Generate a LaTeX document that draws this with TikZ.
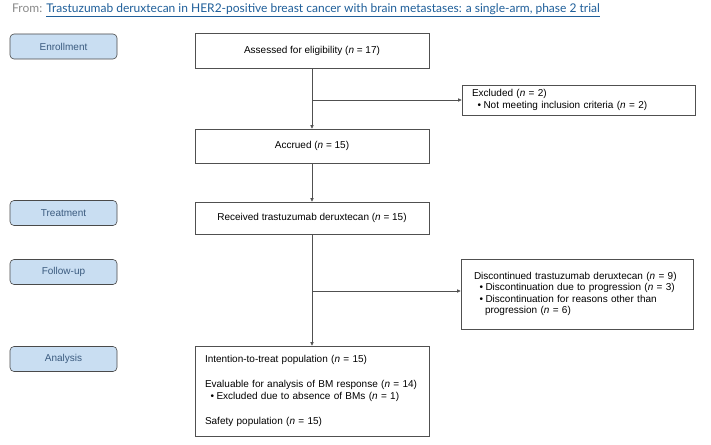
\documentclass[tikz,border=0pt]{standalone}
\usepackage{fontspec}
\setmainfont{Liberation Sans}
\newfontfamily\titlefont{Lato}
\usetikzlibrary{arrows.meta}
\definecolor{phasefill}{HTML}{C9DEF2}
\definecolor{phasetext}{HTML}{3B5B7F}
\definecolor{phaseline}{HTML}{4A4A4A}
\definecolor{boxline}{HTML}{505050}
\definecolor{linkblue}{HTML}{1F5F9A}
\definecolor{fromgray}{HTML}{8A8A8A}
\newcommand\mybullet{\hspace*{5.5pt}\textbullet\hspace{2.5pt}}
\newcommand\myindent{\hspace*{11pt}}
\tikzset{
  phase/.style={draw=phaseline, fill=phasefill, rounded corners=4pt, line width=0.6pt,
    minimum width=107pt, minimum height=25pt, inner sep=0pt, text=phasetext,
    font=\fontsize{10}{12}\selectfont},
  mainbox/.style={draw=boxline, line width=0.6pt, minimum width=234pt, inner sep=0pt,
    font=\fontsize{10}{12}\selectfont, align=center},
  listbox/.style={draw=boxline, line width=0.6pt, inner ysep=0pt, align=left},
  flow/.style={draw=boxline, line width=0.6pt, -{Triangle[length=3.5pt,width=3.2pt]}},
  plain/.style={draw=boxline, line width=0.6pt}
}
\begin{document}
\begin{tikzpicture}[x=1pt,y=-1pt]
\useasboundingbox (0,0) rectangle (711,444);
\fill[white] (0,0) rectangle (711,444);
% title
\node[anchor=base west, inner sep=0pt, font=\titlefont\fontsize{12}{14}\selectfont] (title) at (12,12.5)
  {{\color{fromgray}From: }{\color{linkblue}\underline{Trastuzumab deruxtecan in HER2-positive breast cancer with brain metastases: a single-arm, phase 2 trial}}};
% phases
\node[phase] (enr) at (63.5,46.5) {Enrollment};
\node[phase] (trt) at (63.5,213) {Treatment};
\node[phase] (fol) at (63.5,272) {Follow-up};
\node[phase] (ana) at (63.5,359) {Analysis};
% main boxes
\node[mainbox, minimum height=35pt] (assess) at (312,50.5) {Assessed for eligibility (\textit{n} = 17)};
\node[mainbox, minimum height=34pt] (accr) at (312,146) {Accrued (\textit{n} = 15)};
\node[mainbox, minimum height=32pt] (recv) at (312,218) {Received trastuzumab deruxtecan (\textit{n} = 15)};
\node[listbox, minimum height=90pt, text width=220pt, inner xsep=7pt,
  font=\fontsize{10}{12}\selectfont] (anbox) at (312,391)
  {\hspace*{3pt}Intention-to-treat population (\textit{n} = 15)\\[13pt]
   \hspace*{3pt}Evaluable for analysis of BM response (\textit{n} = 14)\\
   \hspace*{3pt}\mybullet Excluded due to absence of BMs (\textit{n} = 1)\\[13pt]
   \hspace*{3pt}Safety population (\textit{n} = 15)};
% side boxes
\node[listbox, minimum height=30pt, text width=213pt, inner xsep=10pt,
  font=\fontsize{10}{11.5}\selectfont] (excl) at (578.5,100)
  {Excluded (\textit{n} = 2)\\
   \mybullet Not meeting inclusion criteria (\textit{n} = 2)};
\node[listbox, minimum height=70pt, text width=206pt, inner xsep=13pt,
  font=\fontsize{10}{11.5}\selectfont] (disc) at (577,294)
  {Discontinued trastuzumab deruxtecan (\textit{n} = 9)\\
   \mybullet Discontinuation due to progression (\textit{n} = 3)\\
   \mybullet Discontinuation for reasons other than\\
   \myindent progression (\textit{n} = 6)};
% connectors
\coordinate (b1) at (312,100);
\coordinate (b2) at (312,291);
\draw[flow] (assess.south) -- (accr.north);
\draw[flow] (b1) -- (b1 -| excl.west);
\draw[flow] (accr.south) -- (recv.north);
\draw[flow] (recv.south) -- (anbox.north);
\draw[flow] (b2) -- (b2 -| disc.west);
\end{tikzpicture}
\end{document}
